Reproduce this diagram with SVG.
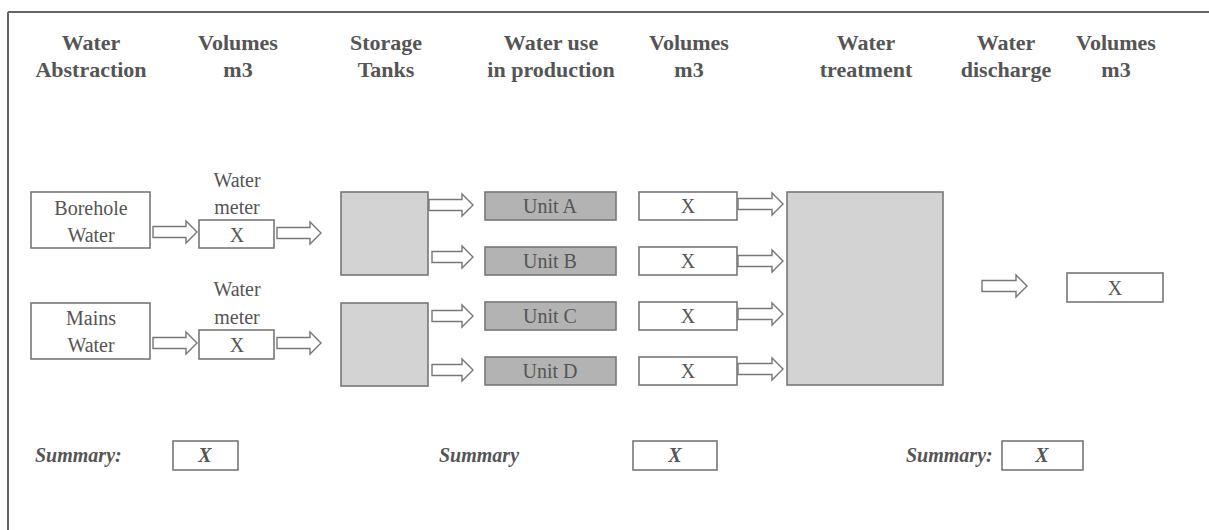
<svg xmlns="http://www.w3.org/2000/svg" width="1209" height="530" viewBox="0 0 1209 530">
<style>
.hd{font-family:"Liberation Serif","Times New Roman",serif;font-weight:bold;font-size:22px;fill:#555;text-anchor:middle}
.tx{font-family:"Liberation Serif","Times New Roman",serif;font-size:20px;fill:#555;text-anchor:middle}
.sm{font-family:"Liberation Serif","Times New Roman",serif;font-weight:bold;font-style:italic;font-size:20px;fill:#555}
.bx{fill:#fff;stroke:#777;stroke-width:1.6}
.tank{fill:#d3d3d3;stroke:#777;stroke-width:1.6}
.unit{fill:#b3b3b3;stroke:#777;stroke-width:1.6}
.ar{fill:#fff;stroke:#777;stroke-width:1.4;stroke-linejoin:miter}
</style>
<rect width="1209" height="530" fill="#fff"/>
<g id="frame" stroke="#666" stroke-width="2">
<line x1="8" y1="12" x2="1209" y2="12"/>
<line x1="8" y1="12" x2="8" y2="530"/>
</g>
<g id="headers">
<text class="hd" x="91" y="50">Water</text><text class="hd" x="91" y="77">Abstraction</text>
<text class="hd" x="238" y="50">Volumes</text><text class="hd" x="238" y="77">m3</text>
<text class="hd" x="386" y="50">Storage</text><text class="hd" x="386" y="77">Tanks</text>
<text class="hd" x="551" y="50">Water use</text><text class="hd" x="551" y="77">in production</text>
<text class="hd" x="689" y="50">Volumes</text><text class="hd" x="689" y="77">m3</text>
<text class="hd" x="866" y="50">Water</text><text class="hd" x="866" y="77">treatment</text>
<text class="hd" x="1006" y="50">Water</text><text class="hd" x="1006" y="77">discharge</text>
<text class="hd" x="1116" y="50">Volumes</text><text class="hd" x="1116" y="77">m3</text>
</g>
<g id="borehole"><rect class="bx" x="31" y="192" width="119" height="56"/><text class="tx" x="91" y="215">Borehole</text><text class="tx" x="91" y="242">Water</text></g>
<g id="mains"><rect class="bx" x="31" y="303" width="119" height="56"/><text class="tx" x="91" y="325">Mains</text><text class="tx" x="91" y="352">Water</text></g>
<g id="meter1"><text class="tx" x="237" y="187">Water</text><text class="tx" x="237" y="214">meter</text><rect class="bx" x="199" y="220" width="75" height="28"/><text class="tx" x="237" y="242">X</text></g>
<g id="meter2"><text class="tx" x="237" y="296">Water</text><text class="tx" x="237" y="324">meter</text><rect class="bx" x="199" y="330" width="75" height="29"/><text class="tx" x="237" y="352">X</text></g>
<g id="tank1"><rect class="tank" x="341" y="192" width="87" height="83"/></g>
<g id="tank2"><rect class="tank" x="341" y="303" width="87" height="83"/></g>
<g id="unitA"><rect class="unit" x="485" y="192" width="131" height="28"/><text class="tx" x="550" y="213">Unit A</text></g>
<g id="unitB"><rect class="unit" x="485" y="247" width="131" height="28"/><text class="tx" x="550" y="268">Unit B</text></g>
<g id="unitC"><rect class="unit" x="485" y="302" width="131" height="28"/><text class="tx" x="550" y="323">Unit C</text></g>
<g id="unitD"><rect class="unit" x="485" y="357" width="131" height="28"/><text class="tx" x="550" y="378">Unit D</text></g>
<g id="volA"><rect class="bx" x="639" y="192" width="98" height="28"/><text class="tx" x="688" y="213">X</text></g>
<g id="volB"><rect class="bx" x="639" y="247" width="98" height="28"/><text class="tx" x="688" y="268">X</text></g>
<g id="volC"><rect class="bx" x="639" y="302" width="98" height="28"/><text class="tx" x="688" y="323">X</text></g>
<g id="volD"><rect class="bx" x="639" y="357" width="98" height="28"/><text class="tx" x="688" y="378">X</text></g>
<g id="treatment"><rect class="tank" x="787" y="192" width="156" height="193"/></g>
<g id="discharge"><rect class="bx" x="1067" y="273" width="96" height="29"/><text class="tx" x="1115" y="295">X</text></g>
<g id="summary1"><text class="sm" x="35" y="462">Summary:</text><rect class="bx" x="173" y="441" width="65" height="29"/><text class="sm" x="205" y="462" text-anchor="middle">X</text></g>
<g id="summary2"><text class="sm" x="439" y="462">Summary</text><rect class="bx" x="633" y="441" width="84" height="29"/><text class="sm" x="675" y="462" text-anchor="middle">X</text></g>
<g id="summary3"><text class="sm" x="906" y="462">Summary:</text><rect class="bx" x="1002" y="441" width="81" height="29"/><text class="sm" x="1042" y="462" text-anchor="middle">X</text></g>
<g id="connectors">
<path class="ar" d="M153,226.5H186V221L197,232L186,243V237.5H153Z"/>
<path class="ar" d="M277,227.5H310V222L321,233L310,244V238.5H277Z"/>
<path class="ar" d="M153,337.5H186V332L197,343L186,354V348.5H153Z"/>
<path class="ar" d="M277,337.5H310V332L321,343L310,354V348.5H277Z"/>
<path class="ar" d="M429,199.5H462V194L473,205L462,216V210.5H429Z"/>
<path class="ar" d="M432,251.5H462V246L473,257L462,268V262.5H432Z"/>
<path class="ar" d="M432,310.5H462V305L473,316L462,327V321.5H432Z"/>
<path class="ar" d="M432,364.5H462V359L473,370L462,381V375.5H432Z"/>
<path class="ar" d="M738,198.5H772V193L783,204L772,215V209.5H738Z"/>
<path class="ar" d="M738,255.5H772V250L783,261L772,272V266.5H738Z"/>
<path class="ar" d="M738,308.5H772V303L783,314L772,325V319.5H738Z"/>
<path class="ar" d="M738,363.5H772V358L783,369L772,380V374.5H738Z"/>
<path class="ar" d="M982,280.5H1016V275L1027,286L1016,297V291.5H982Z"/>
</g>
</svg>
